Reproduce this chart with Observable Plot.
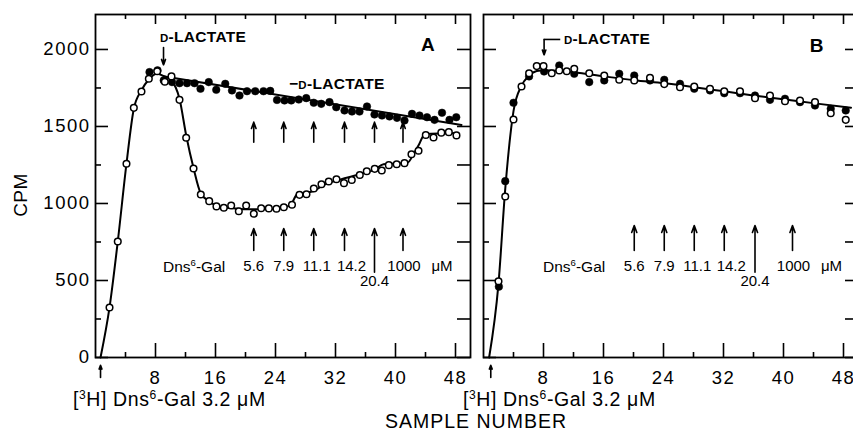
<!DOCTYPE html>
<html><head><meta charset="utf-8">
<script src="https://cdn.jsdelivr.net/npm/d3@7"></script>
<script src="https://cdn.jsdelivr.net/npm/@observablehq/plot@0.6"></script>
<style>
html,body{margin:0;padding:0;background:#fff;overflow:hidden;}
#wrap{position:relative;width:853px;height:437px;overflow:hidden;font-family:"Liberation Sans",Arial,sans-serif;color:#000;}
.pl{position:absolute;top:0;}
.lbl{position:absolute;white-space:nowrap;line-height:1;}
.sup{font-size:0.62em;position:relative;top:-0.6em;}
.sc{font-size:0.74em;}
svg [aria-label$="tick label"] text{letter-spacing:1.5px;}
</style></head><body><div id="wrap"></div>
<script>
// ---------- data ----------
const xTicks = [8, 16, 24, 32, 40, 48];
const xMinor = [4, 12, 20, 28, 36, 44];
const yTicks = [0, 500, 1000, 1500, 2000];
const yMinor = [250, 750, 1250, 1750];

// Panel A : + D-lactate (open circles)
const aOpenX = [1.87,2.97,4.13,5.11,6.13,7.11,8.23,9.24,10.13,11.2,12.09,13.07,14.04,15.16,16.13,17.11,18.09,19.11,20.09,21.11,22.09,23.11,24.13,25.11,26.2,27.2,28.13,29.11,30.13,31.1,32.13,33.13,34.17,35.24,36.17,37.23,38.17,39.11,40.16,41.2,42.13,43.07,44.04,45.07,46.11,47.11,48.13];
const aOpenY = [325,753,1258,1621,1727,1810,1859,1790,1825,1673,1427,1227,1058,1015,981,972,987,950,987,933,969,968,966,976,992,1056,1060,1097,1125,1143,1157,1132,1152,1185,1209,1225,1214,1249,1255,1262,1320,1342,1445,1428,1460,1463,1442];
// Panel A : - D-lactate (filled circles)
const aFillX = [7.2,8.27,9.1,10.2,11.2,12.2,13.2,14.0,15.1,16.1,17.3,18.2,19.2,20.2,21.3,22.4,23.3,24.2,25.2,26.1,27.1,28.1,29.1,30.1,31.2,32.1,33.2,34.2,35.2,36.2,37.2,38.2,39.2,40.2,41.2,42.2,43.2,44.2,45.2,46.2,47.2,48.1];
const aFillY = [1853,1864,1799,1788,1781,1781,1781,1745,1788,1738,1777,1734,1701,1729,1729,1729,1731,1672,1669,1669,1675,1684,1654,1647,1658,1625,1604,1597,1597,1630,1578,1571,1565,1556,1539,1582,1571,1560,1543,1589,1543,1560];
// Panel A drawn curves
const aCurveX = [0.67,1.87,2.97,4.13,5.11,6.13,7.11,8.2,9.2,10.1,11.2,12.1,13.07,14.04,15.16,16.1,17.1,18.1,20,22,24.1,25.1,26.0,26.9,29.1,30.2,31.5,33,35.2,37.2,38.4,41.6,42.4,43.2,43.9,48.3];
const aCurveY = [0,325,753,1258,1615,1735,1805,1842,1825,1800,1680,1440,1230,1065,1015,985,975,970,962,962,965,975,990,1060,1080,1115,1140,1160,1190,1220,1255,1265,1320,1390,1450,1458];
const aTrendX = [9.2, 48.8];
const aTrendY = [1825, 1510];

// Panel B
const bOpenX = [2.0,2.9,4.0,5.07,6.08,7.1,8.0,9.1,10.1,11.1,12.1,14.1,16.1,18.1,20.1,22.2,24.1,26.2,28.1,30.2,32.1,34.2,36.2,38.2,40.2,42.2,44.2,46.3,48.3];
const bOpenY = [495,1045,1545,1760,1846,1892,1892,1846,1864,1859,1875,1846,1831,1803,1799,1816,1775,1755,1760,1745,1729,1729,1684,1701,1664,1669,1658,1586,1543];
const bFillX = [2.05,2.9,4.0,6.08,8.08,10.1,12.1,14.1,16.1,18.1,20.1,22.2,24.1,26.2,28.1,30.2,32.1,34.2,36.2,38.2,40.2,42.2,44.2,46.3,48.3];
const bFillY = [460,1145,1654,1825,1857,1896,1842,1788,1799,1842,1831,1799,1803,1777,1745,1734,1716,1716,1701,1673,1680,1658,1636,1615,1604];
const bCurveX = [0.75,2.0,2.9,4.0,5.07,6.08,7.1,8.1,10,12.1,16.1,20.1,24.1,28.1,32.1,36.2,40.2,44.2,49];
const bCurveY = [0,480,1095,1600,1765,1830,1860,1865,1862,1852,1825,1800,1780,1755,1728,1700,1675,1650,1622];

// Dns6-Gal additions (sample number of each addition) and concentrations (uM)
const concLabels = ["5.6", "7.9", "11.1", "14.2", "20.4", "1000"];
const aAddX = [21.1, 25.1, 29.1, 33.2, 37.2, 41.0];
const bAddX = [20.1, 24.1, 28.1, 32.1, 36.2, 41.2];
const aStartX = 0.67, bStartX = 0.97;      // [3H]Dns6-Gal 3.2 uM addition
const aLactX = 9.07, bLactX = 8.08;        // D-lactate addition

// ---------- layout helpers ----------
const yMax = 2227, xMax = 50;
const ky = 343 / yMax, kx = 7.5;           // px per unit
const col = "#000";
const labelNudge = [0, 0, 3, 7, 0, 1];     // px shift of concentration labels

function zip(xs, ys) { return xs.map((x, i) => ({x, y: ys[i]})); }

function frameMarks() {
  return [
    Plot.frame({stroke: col, strokeWidth: 1.8}),
    Plot.ruleX(xTicks, {x: d => d, y1: 0, y2: 14 / ky, stroke: col, strokeWidth: 1.6}),
    Plot.ruleX(xMinor, {x: d => d, y1: 0, y2: 5 / ky, stroke: col, strokeWidth: 1.6}),
    Plot.ruleX(xTicks, {x: d => d, y1: yMax, y2: yMax - 10 / ky, stroke: col, strokeWidth: 1.6}),
    Plot.ruleX(xMinor, {x: d => d, y1: yMax, y2: yMax - 5 / ky, stroke: col, strokeWidth: 1.6}),
    Plot.ruleY(yTicks, {y: d => d, x1: 0, x2: 13 / kx, stroke: col, strokeWidth: 1.6}),
    Plot.ruleY(yMinor, {y: d => d, x1: 0, x2: 6 / kx, stroke: col, strokeWidth: 1.6}),
    Plot.ruleY(yTicks.concat(yMinor), {y: d => d, x1: xMax - 13 / kx, x2: xMax, stroke: col, strokeWidth: 1.6})
  ];
}

function addArrows(xs, tip, base, base204) {
  const d = xs.map((x, i) => ({x, y1: (concLabels[i] === "20.4" ? base204 : base), y2: tip}));
  return Plot.arrow(d, {x1: "x", x2: "x", y1: "y1", y2: "y2", stroke: col, strokeWidth: 1.6, headLength: 7, headAngle: 40});
}

function concText(xs) {
  const marks = [];
  xs.forEach((x, i) => {
    const t = concLabels[i];
    marks.push(Plot.text([{x, t}], {x: "x", y: t === "20.4" ? 494 : 591, text: "t", dx: labelNudge[i], fontSize: 15, fill: col}));
    if (t === "1000") marks.push(Plot.text([{x}], {x: "x", y: 591, text: () => "\u03bcM", dx: 39, fontSize: 15, fill: col}));
  });
  return marks;
}

const common = {
  height: 437,
  marginTop: 14,
  marginBottom: 80,
  style: {fontFamily: "'Liberation Sans', Arial, sans-serif", fontSize: "18.5px", color: col, background: "transparent", overflow: "visible"}
};

// ---------- Panel A ----------
const plotA = Plot.plot({
  ...common,
  width: 480,
  marginLeft: 95,
  marginRight: 10,
  x: {domain: [0, xMax], ticks: xTicks, tickSize: 0, tickPadding: 13, tickFormat: d => String(d), label: null},
  y: {domain: [0, yMax], ticks: yTicks, tickSize: 0, tickPadding: 5, tickFormat: d => String(d), label: null},
  marks: [
    ...frameMarks(),
    Plot.line(zip(aCurveX, aCurveY), {x: "x", y: "y", curve: "monotone-x", stroke: col, strokeWidth: 2}),
    Plot.line(zip(aTrendX, aTrendY), {x: "x", y: "y", stroke: col, strokeWidth: 2}),
    Plot.dot(zip(aFillX, aFillY), {x: "x", y: "y", r: 3.8, fill: col, stroke: col, strokeWidth: 0.5}),
    Plot.dot(zip(aOpenX, aOpenY), {x: "x", y: "y", r: 3.3, fill: "#fff", stroke: col, strokeWidth: 1.5}),
    addArrows(aAddX, 1528, 1398, 1398),
    addArrows(aAddX, 838, 695, 554),
    ...concText(aAddX),
    Plot.arrow([{x: aLactX}], {x1: "x", x2: "x", y1: 2013, y2: 1900, stroke: col, strokeWidth: 1.6, headLength: 7, headAngle: 40}),
    Plot.arrow([{x: aStartX}], {x1: "x", x2: "x", y1: -130, y2: -50, stroke: col, strokeWidth: 1.6, headLength: 6, headAngle: 40}),
    Plot.text(["A"], {x: 44.3, y: 2032, text: d => d, fontSize: 19, fontWeight: "bold", fill: col})
  ]
});

// ---------- Panel B ----------
const plotB = Plot.plot({
  ...common,
  width: 395,
  marginLeft: 10,
  marginRight: 10,
  x: {domain: [0, xMax], ticks: xTicks, tickSize: 0, tickPadding: 13, tickFormat: d => String(d), label: null},
  y: {domain: [0, yMax], axis: null},
  marks: [
    ...frameMarks(),
    Plot.line(zip(bCurveX, bCurveY), {x: "x", y: "y", curve: "monotone-x", stroke: col, strokeWidth: 2}),
    Plot.dot(zip(bFillX, bFillY), {x: "x", y: "y", r: 3.8, fill: col, stroke: col, strokeWidth: 0.5}),
    Plot.dot(zip(bOpenX, bOpenY), {x: "x", y: "y", r: 3.3, fill: "#fff", stroke: col, strokeWidth: 1.5}),
    addArrows(bAddX, 857, 695, 554),
    ...concText(bAddX),
    Plot.ruleY([2065], {x1: bLactX, x2: 10.3, stroke: col, strokeWidth: 1.6}),
    Plot.arrow([{x: bLactX}], {x1: "x", x2: "x", y1: 2065, y2: 1965, stroke: col, strokeWidth: 1.6, headLength: 7, headAngle: 40}),
    Plot.arrow([{x: bStartX}], {x1: "x", x2: "x", y1: -130, y2: -50, stroke: col, strokeWidth: 1.6, headLength: 6, headAngle: 40}),
    Plot.text(["B"], {x: 44.4, y: 2026, text: d => d, fontSize: 19, fontWeight: "bold", fill: col})
  ]
});

const wrap = document.getElementById("wrap");
plotA.classList.add("pl"); plotA.style.left = "0px";
plotB.classList.add("pl"); plotB.style.left = "473px";
wrap.appendChild(plotA);
wrap.appendChild(plotB);

// ---------- text annotations ----------
function label(html, css) {
  const d = document.createElement("div");
  d.className = "lbl";
  d.innerHTML = html;
  Object.assign(d.style, css);
  wrap.appendChild(d);
  return d;
}
const dns = 'Dns<span class="sup">6</span>-Gal';
label('CPM', {left: "20px", top: "195px", fontSize: "19px", letterSpacing: "0.5px", transform: "translate(-50%,-50%) rotate(-90deg)"});
label('<span class="sc">D</span>-LACTATE', {left: "160px", top: "29px", fontSize: "15.5px", fontWeight: "bold", letterSpacing: "0.3px"});
label('\u2212<span class="sc">D</span>-LACTATE', {left: "289px", top: "76px", fontSize: "15.5px", fontWeight: "bold", letterSpacing: "0.3px"});
label('<span class="sc">D</span>-LACTATE', {left: "564px", top: "31px", fontSize: "15.5px", fontWeight: "bold", letterSpacing: "0.3px"});
label(dns, {left: "163px", top: "259px", fontSize: "15.5px"});
label(dns, {left: "543px", top: "259px", fontSize: "15.5px"});
label('[<span class="sup">3</span>H] ' + dns + ' 3.2 \u03bcM', {left: "73px", top: "390px", fontSize: "19.5px", letterSpacing: "0.6px"});
label('[<span class="sup">3</span>H] ' + dns + ' 3.2 \u03bcM', {left: "463px", top: "390px", fontSize: "19.5px", letterSpacing: "0.6px"});
label('SAMPLE NUMBER', {left: "385px", top: "412px", fontSize: "19.5px", letterSpacing: "1px"});
</script>
</body></html>
